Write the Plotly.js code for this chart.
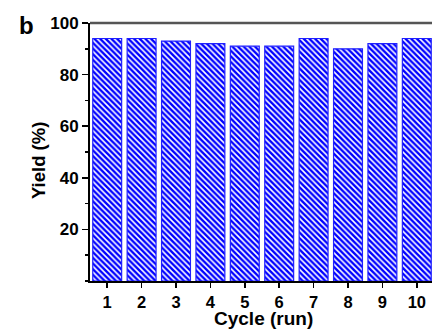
<!DOCTYPE html>
<html>
<head>
<meta charset="utf-8">
<script src="https://cdn.plot.ly/plotly-3.0.1.min.js"></script>
<style>
html,body{margin:0;padding:0;overflow:hidden;background:#fff;width:432px;height:330px;}
#chart{width:436px;height:330px;}
</style>
</head>
<body>
<div id="chart"></div>
<script>
const cycles = [1, 2, 3, 4, 5, 6, 7, 8, 9, 10];
const yields = [94, 94, 93, 92, 91, 91, 94, 90, 92, 94];
const xTickLabels = ['1', '2', '3', '4', '5', '6', '7', '8', '9', '10'];
const yTickVals = [20, 40, 60, 80, 100];
const xTitle = 'Cycle (run)';
const yTitle = 'Yield (%)';
const panelLabel = 'b';

const FONT = 'Liberation Sans, Arial, sans-serif';

const trace = {
  type: 'bar',
  x: cycles,
  y: yields,
  width: 0.84,
  marker: {
    color: '#0000ff',
    line: {color: '#2020ff', width: 1.2},
    pattern: {shape: '\\', fillmode: 'replace', fgcolor: '#0000ff', bgcolor: '#ffffff', size: 4, solidity: 0.6}
  },
  hoverinfo: 'skip'
};

const layout = {
  width: 436,
  height: 330,
  margin: {l: 90, r: 2, t: 23, b: 49},
  paper_bgcolor: '#fff',
  plot_bgcolor: '#fff',
  showlegend: false,
  font: {family: FONT, color: '#000', size: 17, weight: 'bold'},
  xaxis: {
    range: [0.5, 10.5],
    tickvals: cycles,
    ticktext: xTickLabels,
    ticks: 'outside',
    ticklen: 5,
    tickwidth: 1.5,
    tickcolor: '#000',
    showline: true,
    linecolor: '#000',
    linewidth: 2,
    mirror: false,
    showgrid: false,
    zeroline: false,
    tickfont: {family: FONT, size: 16.5, weight: 'bold', color: '#000'}
  },
  yaxis: {
    range: [0, 100],
    tickvals: yTickVals,
    ticks: 'outside',
    ticklen: 6,
    tickwidth: 1.5,
    tickcolor: '#000',
    minor: {dtick: 10, tick0: 10, ticks: 'outside', ticklen: 3, tickwidth: 1.5, tickcolor: '#000', showgrid: false},
    showline: true,
    linecolor: '#000',
    linewidth: 2,
    showgrid: false,
    zeroline: false,
    tickfont: {family: FONT, size: 17, weight: 'bold', color: '#000'}
  },
  shapes: [{
    type: 'line', xref: 'paper', yref: 'paper', x0: 0, x1: 1, y0: 1, y1: 1,
    line: {color: '#555', width: 2.5}
  }],
  annotations: [
    {
      text: panelLabel, xref: 'paper', yref: 'paper', x: -0.212, y: 0.99,
      xanchor: 'left', yanchor: 'middle', showarrow: false,
      font: {family: FONT, size: 24, weight: 'bold', color: '#000'}
    },
    {
      text: xTitle, xref: 'paper', yref: 'paper', x: 0.503, y: -0.19,
      xanchor: 'center', yanchor: 'bottom', showarrow: false, borderpad: 0,
      font: {family: FONT, size: 19, weight: 'bold', color: '#000'}
    },
    {
      text: yTitle, xref: 'paper', yref: 'paper', x: -0.151, y: 0.465, textangle: -90,
      xanchor: 'center', yanchor: 'middle', showarrow: false,
      font: {family: FONT, size: 18.5, weight: 'bold', color: '#000'}
    }
  ]
};

Plotly.newPlot('chart', [trace], layout, {displayModeBar: false, staticPlot: true});
</script>
</body>
</html>
